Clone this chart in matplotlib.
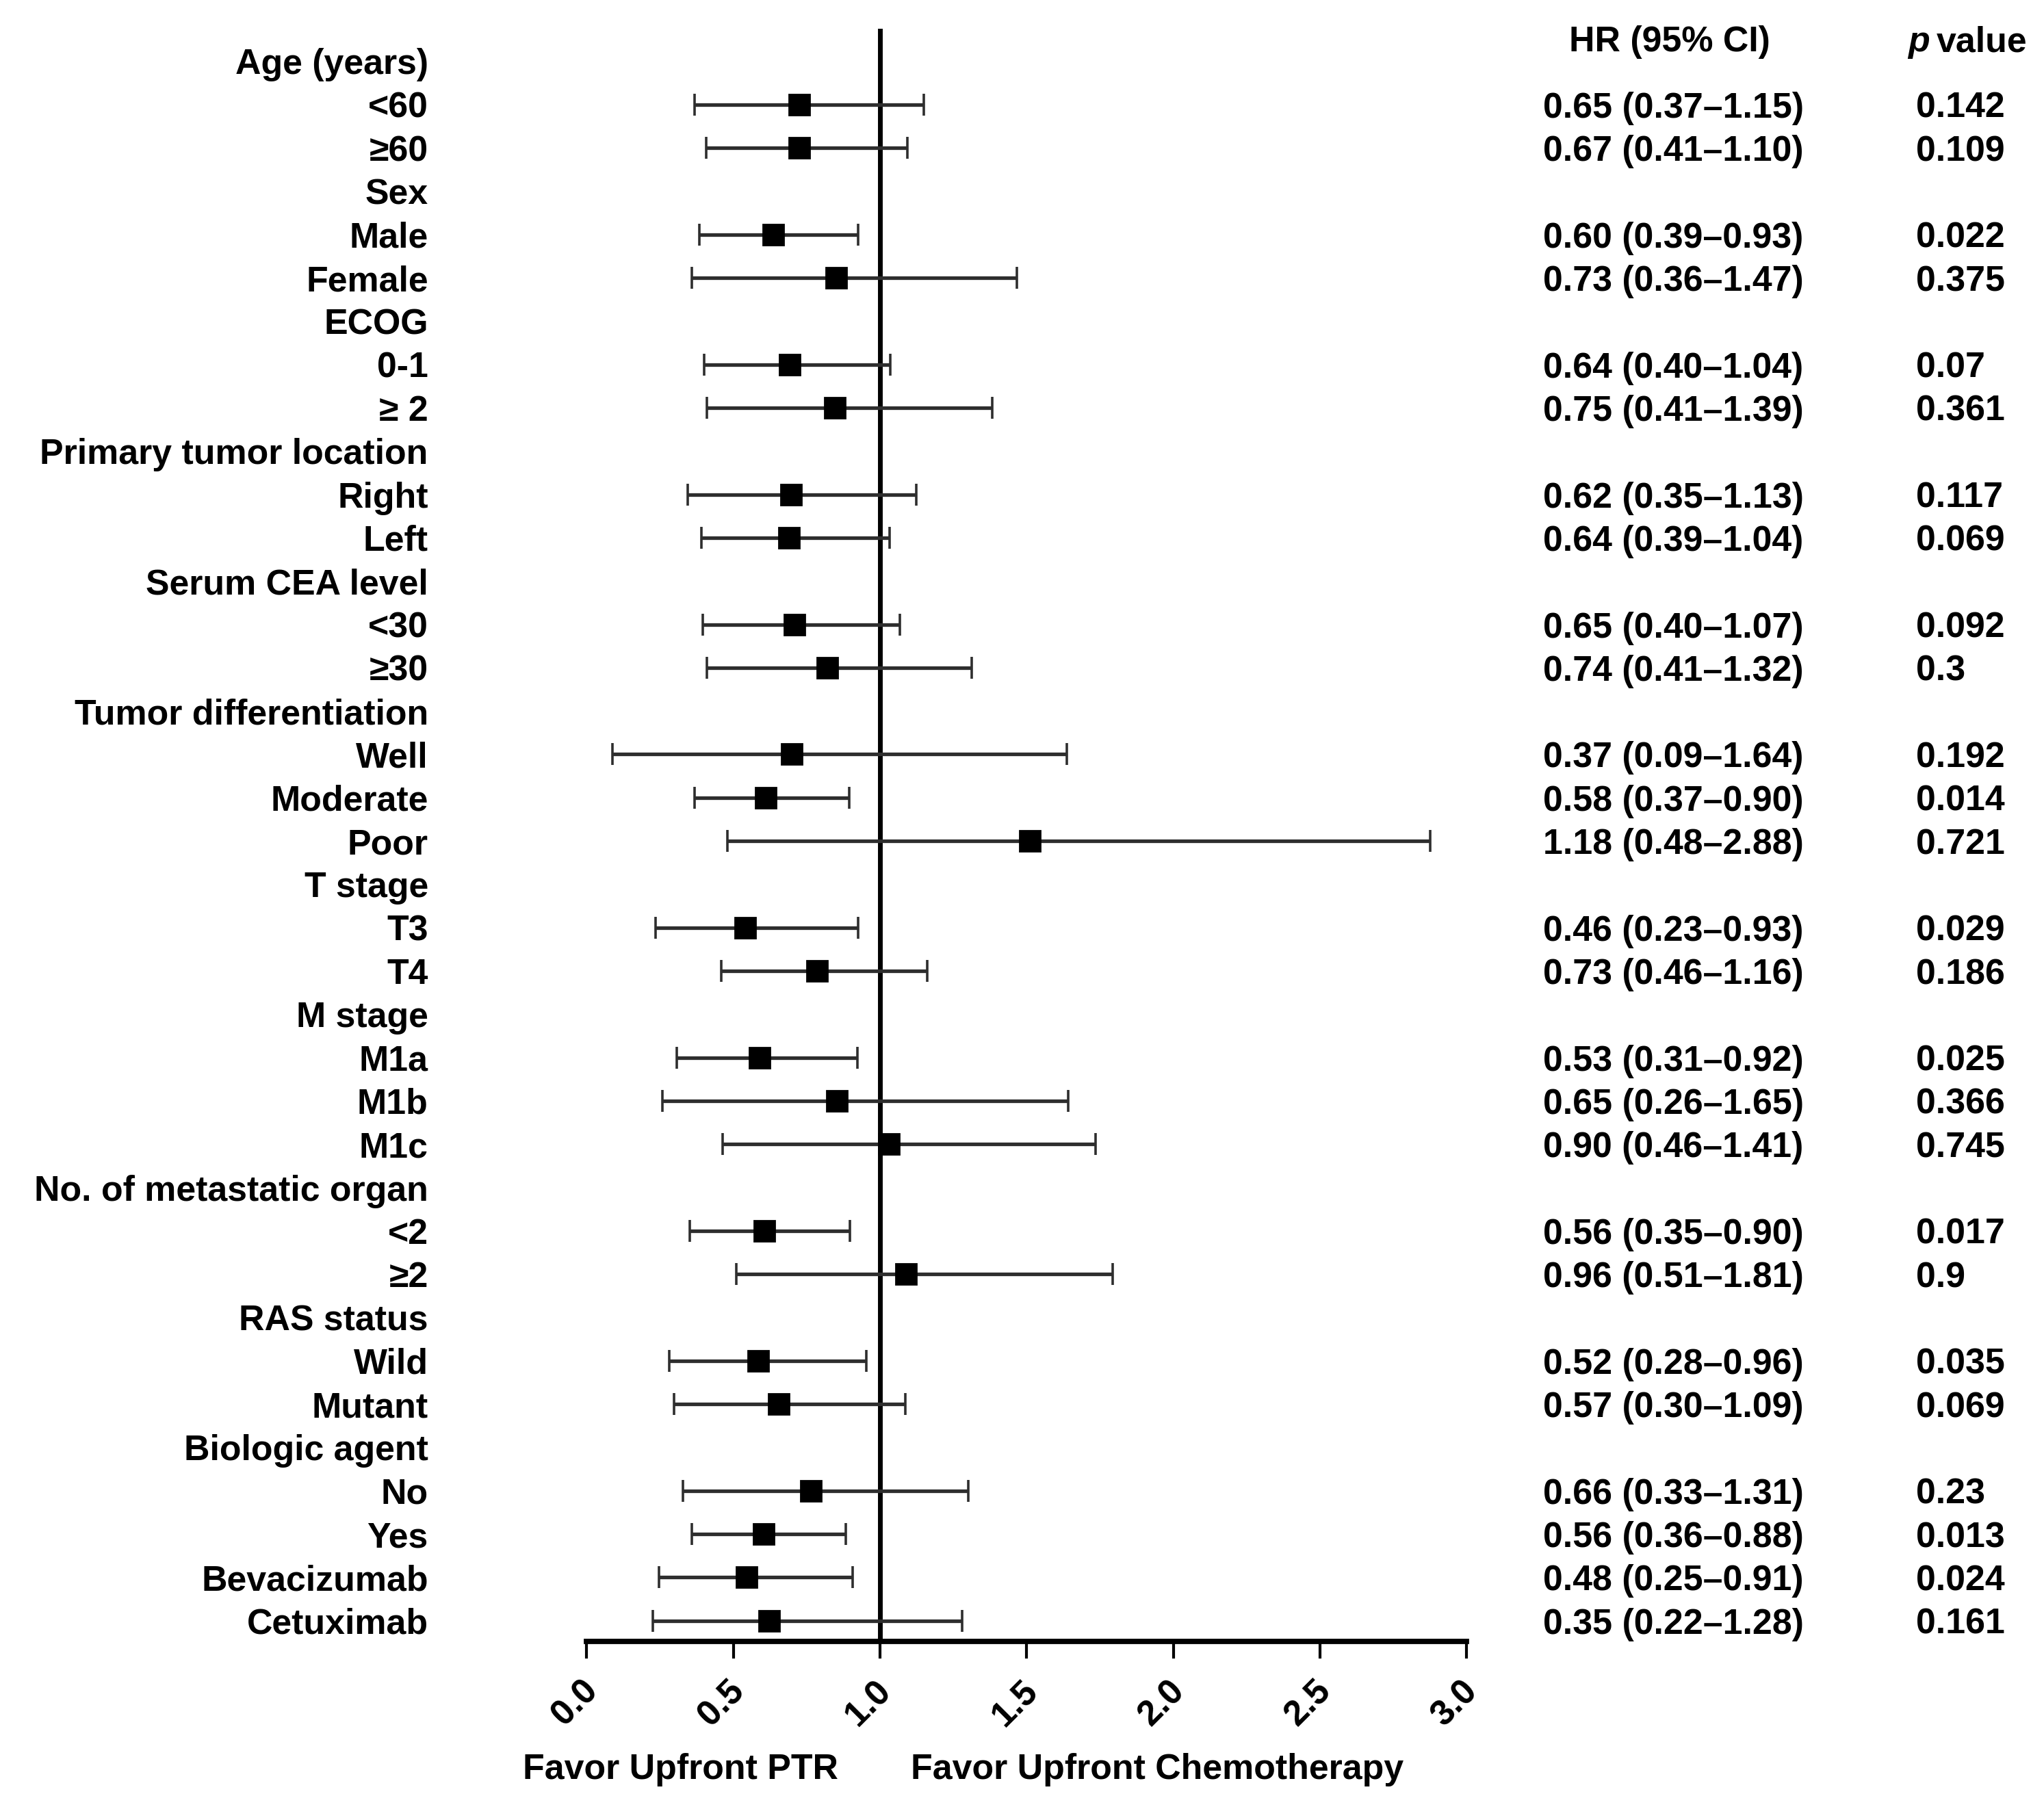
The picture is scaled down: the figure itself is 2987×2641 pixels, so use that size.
import numpy as np
import matplotlib
matplotlib.use("Agg")
import matplotlib.pyplot as plt
import matplotlib.transforms as mtransforms

nan = np.nan

# Rows top to bottom (group headers have no estimate)
labels = ["Age (years)", "<60", "≥60", "Sex", "Male", "Female", "ECOG", "0-1", "≥ 2",
          "Primary tumor location", "Right", "Left", "Serum CEA level", "<30", "≥30",
          "Tumor differentiation", "Well", "Moderate", "Poor", "T stage", "T3", "T4",
          "M stage", "M1a", "M1b", "M1c", "No. of metastatic organ", "<2", "≥2",
          "RAS status", "Wild", "Mutant", "Biologic agent", "No", "Yes",
          "Bevacizumab", "Cetuximab"]

point = [nan, 0.725, 0.725, nan, 0.637, 0.851, nan, 0.693, 0.847, nan, 0.697, 0.690,
         nan, 0.709, 0.820, nan, 0.700, 0.611, 1.510, nan, 0.540, 0.786, nan, 0.589,
         0.854, 1.030, nan, 0.605, 1.090, nan, 0.585, 0.655, nan, 0.765, 0.603, 0.546,
         0.622]
lower = [nan, 0.367, 0.407, nan, 0.384, 0.358, nan, 0.400, 0.409, nan, 0.345, 0.391,
         nan, 0.397, 0.410, nan, 0.087, 0.369, 0.480, nan, 0.234, 0.460, nan, 0.308,
         0.259, 0.463, nan, 0.351, 0.510, nan, 0.281, 0.298, nan, 0.329, 0.358, 0.247,
         0.225]
upper = [nan, 1.150, 1.094, nan, 0.926, 1.467, nan, 1.036, 1.382, nan, 1.125, 1.033,
         nan, 1.069, 1.313, nan, 1.636, 0.895, 2.876, nan, 0.926, 1.161, nan, 0.923,
         1.641, 1.735, nan, 0.897, 1.793, nan, 0.954, 1.086, nan, 1.301, 0.883, 0.908,
         1.281]

hr_text = ["", "0.65 (0.37–1.15)", "0.67 (0.41–1.10)", "", "0.60 (0.39–0.93)",
           "0.73 (0.36–1.47)", "", "0.64 (0.40–1.04)", "0.75 (0.41–1.39)", "",
           "0.62 (0.35–1.13)", "0.64 (0.39–1.04)", "", "0.65 (0.40–1.07)",
           "0.74 (0.41–1.32)", "", "0.37 (0.09–1.64)", "0.58 (0.37–0.90)",
           "1.18 (0.48–2.88)", "", "0.46 (0.23–0.93)", "0.73 (0.46–1.16)", "",
           "0.53 (0.31–0.92)", "0.65 (0.26–1.65)", "0.90 (0.46–1.41)", "",
           "0.56 (0.35–0.90)", "0.96 (0.51–1.81)", "", "0.52 (0.28–0.96)",
           "0.57 (0.30–1.09)", "", "0.66 (0.33–1.31)", "0.56 (0.36–0.88)",
           "0.48 (0.25–0.91)", "0.35 (0.22–1.28)"]
p_text = ["", "0.142", "0.109", "", "0.022", "0.375", "", "0.07", "0.361", "",
          "0.117", "0.069", "", "0.092", "0.3", "", "0.192", "0.014", "0.721", "",
          "0.029", "0.186", "", "0.025", "0.366", "0.745", "", "0.017", "0.9", "",
          "0.035", "0.069", "", "0.23", "0.013", "0.024", "0.161"]

xticks = [0.0, 0.5, 1.0, 1.5, 2.0, 2.5, 3.0]
xtick_labels = ["0.0", "0.5", "1.0", "1.5", "2.0", "2.5", "3.0"]

plt.rcParams['font.family'] = ['Liberation Sans', 'DejaVu Sans']
plt.rcParams['font.weight'] = 'bold'
FS = 18.7

fig = plt.figure(figsize=(14.935, 13.205), dpi=200)
ax = fig.add_axes([0.2870, 0.0916, 0.4305, 0.8925])

y = np.arange(len(labels))
point = np.array(point)
lower = np.array(lower)
upper = np.array(upper)
ok = ~np.isnan(point)

ax.errorbar(point[ok], y[ok], xerr=[point[ok] - lower[ok], upper[ok] - point[ok]],
            fmt='s', color='black', ecolor='#2e2e2e', elinewidth=1.9, capsize=5.7,
            capthick=1.3, markersize=10.5, zorder=3)
ax.axvline(1.0, color='black', lw=2.5, zorder=2)

ax.set_xlim(0, 3)
ax.set_ylim(36.48, -0.75)
ax.set_yticks([])
for s in ['top', 'right', 'left']:
    ax.spines[s].set_visible(False)
ax.spines['bottom'].set_linewidth(2.8)
ax.set_xticks(xticks)
ax.set_xticklabels(xtick_labels, rotation=45, ha='center', fontsize=FS, fontweight='bold')
ax.tick_params(axis='x', length=9, width=1.5, pad=8)
offset = mtransforms.ScaledTranslation(-6 / 72, 0, fig.dpi_scale_trans)
for lbl in ax.get_xticklabels():
    lbl.set_transform(lbl.get_transform() + offset)

trans = mtransforms.blended_transform_factory(fig.transFigure, ax.transData)
for i, lab in enumerate(labels):
    ax.text(0.2095, i, lab, transform=trans, ha='right', va='center_baseline',
            fontsize=FS, fontweight='bold', clip_on=False)
    if hr_text[i]:
        ax.text(0.755, i, hr_text[i], transform=trans, ha='left', va='center_baseline',
                fontsize=FS, fontweight='bold', clip_on=False)
        ax.text(0.9374, i, p_text[i], transform=trans, ha='left', va='center_baseline',
                fontsize=FS, fontweight='bold', clip_on=False)

fig.text(0.817, 0.9766, "HR (95% CI)", ha='center', va='center', fontsize=FS,
         fontweight='bold')
fig.text(0.9334, 0.9766, "p", ha='left', va='center', fontsize=FS,
         fontweight='bold', style='italic')
fig.text(0.9475, 0.9766, "value", ha='left', va='center', fontsize=FS,
         fontweight='bold')

fig.text(0.333, 0.0208, "Favor Upfront PTR", ha='center', va='center', fontsize=FS,
         fontweight='bold')
fig.text(0.566, 0.0208, "Favor Upfront Chemotherapy", ha='center', va='center',
         fontsize=FS, fontweight='bold')

fig.savefig("out.png", dpi=200, facecolor='white')
